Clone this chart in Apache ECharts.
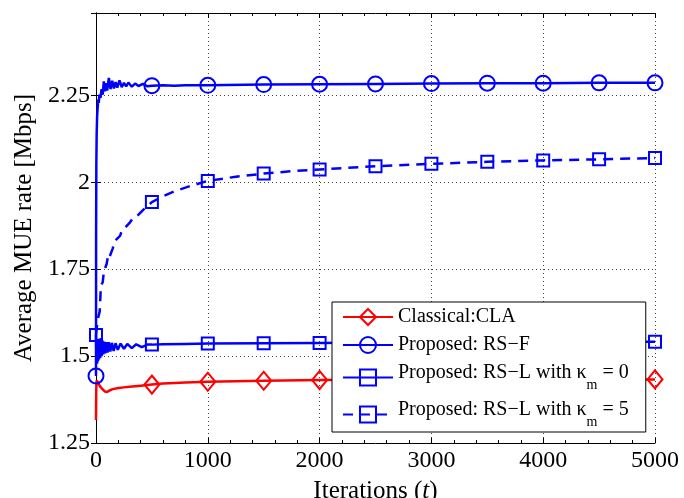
<!DOCTYPE html>
<html>
<head>
<meta charset="utf-8">
<script src="https://cdn.jsdelivr.net/npm/echarts@6/dist/echarts.min.js"></script>
<style>
  html, body { margin: 0; padding: 0; background: #fff; }
  #chart { width: 684px; height: 498px; }
</style>
</head>
<body>
<div id="chart"></div>
<script>
// x ticks / y ticks
var xTicks = [0, 1000, 2000, 3000, 4000, 5000];
var yTicks = [1.25, 1.5, 1.75, 2, 2.25];
var markT = [0, 500, 1000, 1500, 2000, 2500, 3000, 3500, 4000, 4500, 5000];

// Classical:CLA
var claT = [0, 2, 5, 10, 20, 30, 45, 60, 80, 100, 120, 150, 200, 250, 300, 400, 500, 600, 800, 1000, 1500, 2000, 2500, 3000, 3500, 4000, 4500, 5000];
var claV = [1.316, 1.40, 1.43, 1.435, 1.424, 1.416, 1.409, 1.404, 1.398, 1.397, 1.401, 1.405, 1.408, 1.410, 1.412, 1.415, 1.418, 1.421, 1.424, 1.426, 1.429, 1.431, 1.432, 1.432, 1.433, 1.433, 1.433, 1.433];

// Proposed: RS-F
var rsfT = [0, 1, 3, 6, 10, 15, 20, 25, 30, 40, 50, 60, 70, 80, 90, 100, 115, 130, 145, 160, 175, 190, 210, 230, 250, 270, 290, 320, 350, 380, 420, 460, 500, 600, 700, 800, 1000, 1500, 2000, 2500, 3000, 3500, 4000, 4500, 5000];
var rsfV = [1.443, 1.85, 2.05, 2.14, 2.19, 2.215, 2.238, 2.228, 2.252, 2.243, 2.268, 2.252, 2.29, 2.262, 2.285, 2.264, 2.30, 2.268, 2.292, 2.27, 2.288, 2.272, 2.293, 2.274, 2.286, 2.276, 2.287, 2.275, 2.284, 2.277, 2.283, 2.276, 2.278, 2.279, 2.278, 2.279, 2.279, 2.281, 2.282, 2.283, 2.284, 2.285, 2.285, 2.286, 2.286];

// Proposed: RS-L with kappa_m = 0
var rsl0T = [0, 3, 6, 10, 14, 18, 22, 27, 32, 38, 44, 50, 57, 65, 73, 82, 92, 103, 115, 128, 142, 158, 175, 195, 220, 250, 280, 320, 360, 410, 460, 500, 600, 800, 1000, 1500, 2000, 2500, 3000, 3500, 4000, 4500, 5000];
var rsl0V = [1.561, 1.50, 1.545, 1.478, 1.54, 1.485, 1.55, 1.49, 1.545, 1.495, 1.552, 1.50, 1.545, 1.505, 1.542, 1.508, 1.54, 1.51, 1.54, 1.513, 1.538, 1.515, 1.537, 1.518, 1.536, 1.521, 1.535, 1.523, 1.534, 1.526, 1.533, 1.533, 1.534, 1.535, 1.536, 1.537, 1.538, 1.539, 1.539, 1.54, 1.54, 1.541, 1.541];

// Proposed: RS-L with kappa_m = 5
var rsl5T = [0, 10, 20, 33, 42, 48, 60, 70, 77, 95, 110, 122, 150, 165, 182, 215, 235, 256, 300, 330, 360, 420, 500, 600, 700, 850, 1000, 1250, 1500, 1750, 2000, 2500, 3000, 3500, 4000, 4500, 5000];
var rsl5V = [1.561, 1.59, 1.612, 1.628, 1.69, 1.706, 1.712, 1.742, 1.749, 1.765, 1.792, 1.786, 1.81, 1.83, 1.835, 1.846, 1.864, 1.868, 1.883, 1.897, 1.90, 1.92, 1.943, 1.96, 1.974, 1.99, 2.004, 2.016, 2.025, 2.032, 2.037, 2.046, 2.053, 2.059, 2.063, 2.066, 2.07];

var names = ['Classical:CLA', 'Proposed: RS-F', 'Proposed: RS-L k0', 'Proposed: RS-L k5'];
var legendText = {
  'Classical:CLA': '{a|Classical:CLA}',
  'Proposed: RS-F': '{a|Proposed: RS\u2212F}',
  'Proposed: RS-L k0': '{t|Proposed: RS\u2212L with \u03ba}{s|m}{t| = 0}',
  'Proposed: RS-L k5': '{t|Proposed: RS\u2212L with \u03ba}{s|m}{t| = 5}'
};

var FONT = 'Liberation Serif';

function build(ts, vs, marks) {
  return ts.map(function (t, i) {
    var item = { value: [t, vs[i]] };
    if (marks.indexOf(t) < 0) item.symbol = 'none';
    return item;
  });
}

function mkSeries(name, ts, vs, marks, color, symbol, size, dashed) {
  return {
    name: name,
    type: 'line',
    data: build(ts, vs, marks),
    symbol: symbol,
    symbolSize: size,
    showSymbol: true,
    lineStyle: { color: color, width: 2.5, type: dashed ? [10, 7] : 'solid' },
    itemStyle: { color: 'rgba(255,255,255,0)', borderColor: color, borderWidth: 2 },
    emphasis: { disabled: true },
    z: 3
  };
}

var chart = echarts.init(document.getElementById('chart'), null, { renderer: 'canvas' });

var axisLine = { show: true, lineStyle: { color: '#000', width: 1 } };
var gridLine = { show: true, lineStyle: { color: '#444', width: 1, type: [1, 3] } };

var option = {
  animation: false,
  backgroundColor: '#fff',
  grid: { left: 96, right: 29, top: 13, bottom: 55, outerBoundsMode: 'none', containLabel: false },
  xAxis: [{
    type: 'value',
    min: xTicks[0],
    max: xTicks[xTicks.length - 1],
    interval: 1000,
    axisLine: axisLine,
    axisTick: { show: true, inside: true, length: 5, lineStyle: { color: '#000' } },
    minorTick: { show: true, splitNumber: 5, length: 3, lineStyle: { color: '#000' } },
    splitLine: gridLine,
    axisLabel: {
      color: '#000', fontFamily: FONT, fontSize: 24, margin: 6,
      formatter: function (v) { return String(v); }
    },
    name: '{a|Iterations (}{i|t}{a|)}',
    nameLocation: 'middle',
    nameGap: 36,
    nameTextStyle: {
      rich: {
        a: { fontFamily: FONT, fontSize: 25, color: '#000' },
        i: { fontFamily: FONT, fontSize: 25, fontStyle: 'italic', color: '#000' }
      }
    }
  }, {
    type: 'value',
    position: 'top',
    min: xTicks[0],
    max: xTicks[xTicks.length - 1],
    interval: 1000,
    axisLine: axisLine,
    axisTick: { show: true, inside: true, length: 5, lineStyle: { color: '#000' } },
    minorTick: { show: true, splitNumber: 5, length: 3, lineStyle: { color: '#000' } },
    splitLine: { show: false },
    axisLabel: { show: false }
  }],
  yAxis: [{
    type: 'value',
    min: yTicks[0],
    max: 2.487,
    interval: 0.25,
    axisLine: axisLine,
    axisTick: { show: true, inside: true, length: 5, lineStyle: { color: '#000' } },
    splitLine: gridLine,
    axisLabel: {
      color: '#000', fontFamily: FONT, fontSize: 24, margin: 6, showMaxLabel: false,
      formatter: function (v) { return yTicks.indexOf(v) >= 0 ? String(v) : ''; }
    },
    name: 'Average MUE rate [Mbps]',
    nameLocation: 'middle',
    nameGap: 56,
    nameTextStyle: { fontFamily: FONT, fontSize: 25, color: '#000' }
  }, {
    type: 'value',
    position: 'right',
    min: yTicks[0],
    max: 2.487,
    interval: 0.25,
    axisLine: axisLine,
    axisTick: { show: true, inside: true, length: 5, lineStyle: { color: '#000' } },
    splitLine: { show: false },
    axisLabel: { show: false }
  }],
  legend: {
    orient: 'vertical',
    left: 332,
    top: 302,
    itemWidth: 50,
    itemHeight: 20,
    itemGap: 8,
    padding: [5, 17, 3, 10],
    backgroundColor: '#fff',
    borderColor: '#000',
    borderWidth: 1,
    borderRadius: 0,
    selectedMode: false,
    data: names,
    formatter: function (n) { return legendText[n]; },
    textStyle: {
      color: '#000',
      fontFamily: FONT,
      fontSize: 20,
      rich: {
        a: { fontFamily: FONT, fontSize: 20, lineHeight: 20, color: '#000' },
        t: { fontFamily: FONT, fontSize: 20, lineHeight: 20, verticalAlign: 'top', color: '#000' },
        s: { fontFamily: FONT, fontSize: 14, verticalAlign: 'bottom', padding: [15, 0, 0, 0], color: '#000' }
      }
    }
  },
  series: [
    mkSeries(names[0], claT, claV, markT.slice(1), '#ff0000', 'diamond', [15, 18], false),
    mkSeries(names[3], rsl5T, rsl5V, markT, '#0000ff', 'rect', 12, true),
    mkSeries(names[2], rsl0T, rsl0V, markT, '#0000ff', 'rect', 12, false),
    mkSeries(names[1], rsfT, rsfV, markT, '#0000ff', 'circle', 15, false)
  ]
};

chart.setOption(option);
</script>
</body>
</html>
